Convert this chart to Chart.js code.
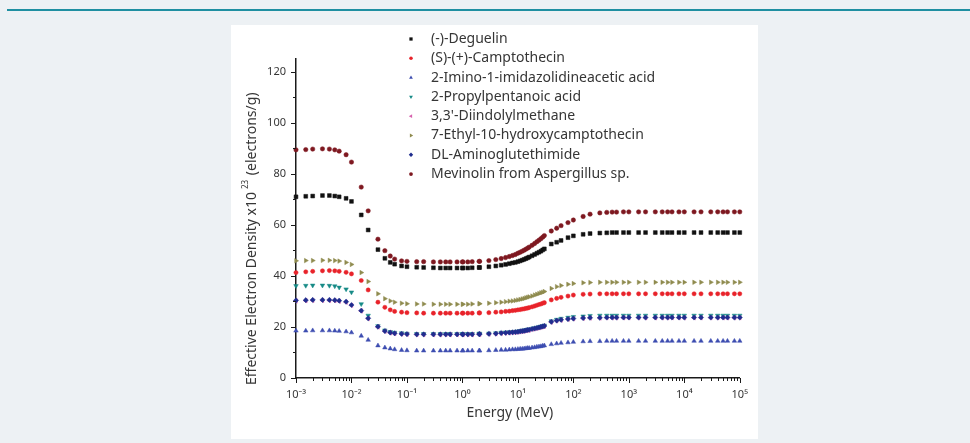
<!DOCTYPE html>
<html>
<head>
<meta charset="utf-8">
<title>Effective electron density vs photon energy</title>
<script src="https://cdn.jsdelivr.net/npm/chart.js@4.4.1/dist/chart.umd.min.js"></script>
<style>
    html, body { margin: 0; padding: 0; }
    body { width: 970px; height: 443px; background: #edf1f4; position: relative; overflow: hidden; }
    .topline { position: absolute; left: 7px; right: 0; top: 9px; height: 2px; background: #1f8fa1; }
    .panel { position: absolute; left: 231px; top: 25px; width: 527px; height: 414px; background: #fff; }
    canvas { display: block; }
</style>
</head>
<body>
<div class="topline"></div>
<div class="panel"><canvas id="densityChart" width="527" height="414"></canvas></div>
<script>
// Photon energies (MeV), standard XCOM grid
var energies = [
    0.001, 0.0015, 0.002, 0.003, 0.004, 0.005, 0.006, 0.008, 0.01,
    0.015, 0.02, 0.03, 0.04, 0.05, 0.06, 0.08,
    0.1, 0.15, 0.2, 0.3, 0.4, 0.5, 0.6, 0.8,
    1, 1.022, 1.25, 1.5, 2, 2.044, 3, 4, 5, 6, 7, 8, 9,
    10, 11, 12, 13, 14, 15, 16, 18, 20, 22, 24, 26, 28, 30,
    40, 50, 60, 80, 100,
    150, 200, 300, 400, 500, 600, 800, 1000,
    1500, 2000, 3000, 4000, 5000, 6000, 8000, 10000,
    15000, 20000, 30000, 40000, 50000, 60000, 80000, 100000
];

var deguelin = [
    71.0, 71.2, 71.3, 71.5, 71.5, 71.3, 71.0, 70.4, 69.2,
    63.9, 58.0, 50.3, 46.9, 45.3, 44.6, 43.9,
    43.6, 43.4, 43.3, 43.2, 43.1, 43.1, 43.1, 43.1,
    43.1, 43.1, 43.1, 43.2, 43.3, 43.3, 43.6, 43.9, 44.2, 44.5, 44.8, 45.1, 45.3,
    45.6, 45.9, 46.2, 46.5, 46.8, 47.1, 47.4, 47.9, 48.4, 48.9, 49.3, 49.7, 50.2, 50.6,
    52.5, 53.2, 53.9, 55.0, 55.7,
    56.3, 56.6, 56.8, 56.9, 57.0, 57.0, 57.0, 57.0,
    57.0, 57.0, 57.0, 57.0, 57.0, 57.0, 57.0, 57.0,
    57.0, 57.0, 57.0, 57.0, 57.0, 57.0, 57.0, 57.0
];

var camptothecin = [
    41.3, 41.6, 41.8, 42.0, 42.1, 42.0, 41.8, 41.4, 40.8,
    38.2, 34.5, 29.7, 27.7, 26.7, 26.1, 25.8,
    25.6, 25.5, 25.4, 25.4, 25.4, 25.4, 25.4, 25.4,
    25.4, 25.4, 25.4, 25.4, 25.5, 25.5, 25.6, 25.8, 25.9, 26.1, 26.2, 26.4, 26.5,
    26.7, 26.8, 27.0, 27.1, 27.3, 27.4, 27.6, 27.9, 28.2, 28.5, 28.8, 29.0, 29.3, 29.5,
    30.6, 31.2, 31.6, 32.1, 32.5,
    32.8, 32.9, 33.0, 33.0, 33.0, 33.0, 33.0, 33.0,
    33.0, 33.0, 33.0, 33.0, 33.0, 33.0, 33.0, 33.0,
    33.0, 33.0, 33.0, 33.0, 33.0, 33.0, 33.0, 33.0
];

var iminoAcid = [
    18.5, 18.5, 18.6, 18.6, 18.6, 18.5, 18.4, 18.2, 17.8,
    16.5, 14.9, 12.7, 11.9, 11.5, 11.2, 10.9,
    10.8, 10.7, 10.7, 10.7, 10.7, 10.7, 10.7, 10.7,
    10.7, 10.7, 10.7, 10.7, 10.7, 10.7, 10.8, 10.9, 11.0, 11.0, 11.1, 11.2, 11.2,
    11.3, 11.4, 11.4, 11.5, 11.6, 11.7, 11.7, 11.9, 12.0, 12.2, 12.3, 12.4, 12.6, 12.7,
    13.2, 13.5, 13.7, 13.9, 14.1,
    14.3, 14.4, 14.4, 14.5, 14.5, 14.5, 14.5, 14.5,
    14.5, 14.5, 14.5, 14.5, 14.5, 14.5, 14.5, 14.5,
    14.5, 14.5, 14.5, 14.5, 14.5, 14.5, 14.5, 14.5
];

var propylpentanoic = [
    36.1, 36.2, 36.3, 36.3, 36.2, 36.0, 35.5, 34.8, 33.6,
    29.0, 24.5, 20.4, 18.7, 18.1, 17.8, 17.6,
    17.4, 17.3, 17.3, 17.3, 17.3, 17.3, 17.3, 17.3,
    17.3, 17.3, 17.3, 17.3, 17.4, 17.4, 17.5, 17.6, 17.8, 17.9, 18.0, 18.1, 18.2,
    18.3, 18.5, 18.6, 18.7, 18.9, 19.0, 19.1, 19.4, 19.6, 19.8, 20.0, 20.2, 20.4, 20.6,
    22.3, 22.9, 23.3, 23.7, 24.0,
    24.2, 24.4, 24.5, 24.5, 24.5, 24.5, 24.5, 24.5,
    24.5, 24.5, 24.5, 24.5, 24.5, 24.5, 24.5, 24.5,
    24.5, 24.5, 24.5, 24.5, 24.5, 24.5, 24.5, 24.5
];

var diindolylmethane = [
    30.2, 30.3, 30.4, 30.4, 30.4, 30.3, 30.1, 29.7, 28.5,
    26.3, 23.3, 20.0, 18.3, 17.7, 17.4, 17.2,
    17.1, 17.0, 17.0, 17.0, 17.0, 17.0, 17.0, 17.0,
    17.0, 17.0, 17.0, 17.0, 17.1, 17.1, 17.2, 17.3, 17.5, 17.6, 17.7, 17.8, 17.9,
    18.0, 18.2, 18.3, 18.4, 18.6, 18.7, 18.8, 19.1, 19.3, 19.5, 19.7, 19.9, 20.1, 20.3,
    21.9, 22.4, 22.7, 23.0, 23.2,
    23.4, 23.5, 23.5, 23.6, 23.6, 23.6, 23.6, 23.6,
    23.6, 23.6, 23.6, 23.6, 23.6, 23.6, 23.6, 23.6,
    23.6, 23.6, 23.6, 23.6, 23.6, 23.6, 23.6, 23.6
];

var ethylHydroxyCamptothecin = [
    45.9, 46.0, 46.0, 46.1, 46.1, 46.0, 45.8, 45.3, 44.5,
    41.3, 37.8, 33.0, 31.1, 30.2, 29.7, 29.3,
    29.1, 29.0, 29.0, 28.9, 28.9, 28.9, 28.9, 28.9,
    28.9, 28.9, 28.9, 29.0, 29.1, 29.1, 29.3, 29.5, 29.7, 29.9, 30.1, 30.2, 30.4,
    30.6, 30.8, 31.0, 31.2, 31.4, 31.6, 31.8, 32.1, 32.5, 32.8, 33.1, 33.4, 33.6, 33.9,
    35.1, 35.8, 36.2, 36.7, 37.0,
    37.3, 37.4, 37.5, 37.5, 37.5, 37.5, 37.5, 37.5,
    37.5, 37.5, 37.5, 37.5, 37.5, 37.5, 37.5, 37.5,
    37.5, 37.5, 37.5, 37.5, 37.5, 37.5, 37.5, 37.5
];

var aminoglutethimide = [
    30.4, 30.5, 30.6, 30.6, 30.6, 30.5, 30.3, 29.9, 28.6,
    26.4, 23.4, 20.1, 18.4, 17.8, 17.5, 17.3,
    17.2, 17.1, 17.1, 17.1, 17.1, 17.1, 17.1, 17.1,
    17.1, 17.1, 17.1, 17.1, 17.2, 17.2, 17.3, 17.4, 17.6, 17.7, 17.8, 17.9, 18.0,
    18.1, 18.3, 18.4, 18.5, 18.7, 18.8, 18.9, 19.2, 19.4, 19.6, 19.8, 20.0, 20.2, 20.4,
    22.0, 22.5, 22.8, 23.1, 23.3,
    23.5, 23.6, 23.6, 23.7, 23.7, 23.7, 23.7, 23.7,
    23.7, 23.7, 23.7, 23.7, 23.7, 23.7, 23.7, 23.7,
    23.7, 23.7, 23.7, 23.7, 23.7, 23.7, 23.7, 23.7
];

var mevinolin = [
    89.4, 89.5, 89.7, 89.8, 89.7, 89.4, 88.9, 87.5, 84.6,
    74.8, 65.5, 54.4, 49.9, 47.8, 46.6, 45.9,
    45.7, 45.6, 45.6, 45.5, 45.5, 45.5, 45.5, 45.5,
    45.5, 45.5, 45.5, 45.6, 45.7, 45.7, 46.0, 46.4, 46.8, 47.2, 47.6, 48.0, 48.4,
    48.9, 49.3, 49.7, 50.1, 50.5, 50.9, 51.3, 52.0, 52.7, 53.4, 54.0, 54.6, 55.2, 55.8,
    57.6, 58.7, 59.7, 60.9, 61.9,
    63.3, 64.2, 64.7, 64.9, 65.0, 65.0, 65.1, 65.1,
    65.1, 65.1, 65.1, 65.1, 65.1, 65.1, 65.1, 65.1,
    65.1, 65.1, 65.1, 65.1, 65.1, 65.1, 65.1, 65.1
];

var seriesNames = [
    '(-)-Deguelin',
    '(S)-(+)-Camptothecin',
    '2-Imino-1-imidazolidineacetic acid',
    '2-Propylpentanoic acid',
    "3,3'-Diindolylmethane",
    '7-Ethyl-10-hydroxycamptothecin',
    'DL-Aminoglutethimide',
    'Mevinolin from Aspergillus sp.'
];
var seriesValues = [deguelin, camptothecin, iminoAcid, propylpentanoic,
    diindolylmethane, ethylHydroxyCamptothecin, aminoglutethimide, mevinolin];

var yTicks = [0, 20, 40, 60, 80, 100, 120];
var yMinorStep = 10;
var xTickValues = [1e-3, 1e-2, 1e-1, 1, 10, 100, 1000, 1e4, 1e5];
var xTickLabels = ['10\u207B\u00B3', '10\u207B\u00B2', '10\u207B\u00B9', '10\u2070', '10\u00B9',
    '10\u00B2', '10\u00B3', '10\u2074', '10\u2075'];

(function () {
    'use strict';

    var FONT = "'Noto Sans', 'DejaVu Sans', sans-serif";
    var TEXT = '#363636';

    var colors = ['#111111', '#e8232a', '#3d4db0', '#168a86', '#d763ae', '#8f8b4e', '#1f2d8e', '#7e1820'];
    var styles = ['rect', 'circle', 'triangle', 'triangle', 'triangle', 'triangle', 'rectRot', 'circle'];
    var rotations = [0, 0, 0, 180, -90, 90, 0, 0];
    var radii = [2.7, 2.1, 2.6, 2.6, 2.6, 2.6, 2.6, 2.2];

    var datasets = seriesValues.map(function (vals, i) {
        return {
            label: seriesNames[i],
            data: energies.map(function (e, j) { return { x: e, y: vals[j] }; }),
            showLine: false,
            pointStyle: styles[i],
            pointRotation: rotations[i],
            pointRadius: radii[i],
            pointBackgroundColor: colors[i],
            pointBorderColor: colors[i],
            pointBorderWidth: 0.5,
            clip: false,
            order: seriesValues.length - i
        };
    });

    // tick marks, axis titles and the legend block
    var decor = {
        id: 'decor',
        afterDraw: function (chart) {
            var ctx = chart.ctx;
            var xs = chart.scales.x, ys = chart.scales.y, area = chart.chartArea;
            var v, p, len;
            ctx.save();
            ctx.strokeStyle = '#1a1a1a';
            ctx.lineWidth = 1;

            for (v = 0; v <= yTicks[yTicks.length - 1]; v += yMinorStep) {
                p = Math.round(ys.getPixelForValue(v)) + 0.5;
                len = yTicks.indexOf(v) !== -1 ? 5 : 3;
                ctx.beginPath();
                ctx.moveTo(area.left - len, p);
                ctx.lineTo(area.left, p);
                ctx.stroke();
            }

            xTickValues.forEach(function (dec) {
                for (var m = 1; m < 10; m++) {
                    var val = dec * m;
                    if (val > xs.max * 1.0001) break;
                    var px = Math.round(xs.getPixelForValue(val)) + 0.5;
                    var l = m === 1 ? 5 : 3;
                    ctx.beginPath();
                    ctx.moveTo(px, area.bottom);
                    ctx.lineTo(px, area.bottom + l);
                    ctx.stroke();
                }
            });

            // y title with superscript
            ctx.fillStyle = TEXT;
            ctx.save();
            ctx.translate(21, area.bottom + 7);
            ctx.rotate(-Math.PI / 2);
            ctx.textBaseline = 'middle';
            ctx.textAlign = 'left';
            var a = 'Effective Electron Density x10', b = '23', c = ' (electrons/g)';
            ctx.font = '14px ' + FONT;
            ctx.fillText(a, 0, 0);
            var wa = ctx.measureText(a).width;
            ctx.font = '8px ' + FONT;
            ctx.fillText(b, wa + 3, -6);
            var wb = ctx.measureText(b).width;
            ctx.font = '14px ' + FONT;
            ctx.fillText(c, wa + wb + 4, 0);
            ctx.restore();

            // x title
            ctx.font = '14px ' + FONT;
            ctx.textAlign = 'center';
            ctx.textBaseline = 'middle';
            ctx.fillText('Energy (MeV)', (area.left + area.right) / 2 - 8, area.bottom + 35);

            // legend
            var lx = 180, ly = 14, step = 19.3;
            chart.data.datasets.forEach(function (ds, i) {
                var y = ly + i * step;
                ctx.fillStyle = colors[i];
                ctx.strokeStyle = colors[i];
                if (Chart.helpers && Chart.helpers.drawPoint) {
                    Chart.helpers.drawPoint(ctx, {
                        pointStyle: ds.pointStyle, rotation: ds.pointRotation,
                        radius: ds.pointRadius * 0.85, borderWidth: 0
                    }, lx, y);
                } else {
                    ctx.beginPath();
                    ctx.arc(lx, y, 2, 0, Math.PI * 2);
                    ctx.fill();
                }
                ctx.fillStyle = TEXT;
                ctx.font = '14px ' + FONT;
                ctx.textAlign = 'left';
                ctx.textBaseline = 'middle';
                ctx.fillText(ds.label, lx + 20, y);
            });
            ctx.restore();
        }
    };

    var tickFont = { family: FONT, size: 11 };

    new Chart(document.getElementById('densityChart').getContext('2d'), {
        type: 'scatter',
        data: { datasets: datasets },
        options: {
            responsive: false,
            animation: false,
            layout: { padding: { top: 34, right: 17, left: 0, bottom: 0 } },
            plugins: {
                legend: { display: false },
                tooltip: { enabled: false }
            },
            scales: {
                x: {
                    type: 'logarithmic',
                    min: 1e-3,
                    max: 1e5,
                    grid: { display: false, drawTicks: false },
                    border: { display: true, color: '#1a1a1a', width: 1.5 },
                    ticks: {
                        autoSkip: false,
                        maxRotation: 0,
                        padding: 10,
                        color: TEXT,
                        font: tickFont,
                        callback: function (v, i) { return xTickLabels[i]; }
                    },
                    afterBuildTicks: function (s) {
                        s.ticks = xTickValues.map(function (v) { return { value: v }; });
                    },
                    afterFit: function (s) { s.height = 61; }
                },
                y: {
                    min: 0,
                    max: 125,
                    grid: { display: false, drawTicks: false },
                    border: { display: true, color: '#1a1a1a', width: 1.5 },
                    ticks: {
                        padding: 10,
                        color: TEXT,
                        font: tickFont
                    },
                    afterBuildTicks: function (s) {
                        s.ticks = yTicks.map(function (v) { return { value: v }; });
                    },
                    afterFit: function (s) { s.width = 65; }
                }
            }
        },
        plugins: [decor]
    });
})();
</script>
</body>
</html>
